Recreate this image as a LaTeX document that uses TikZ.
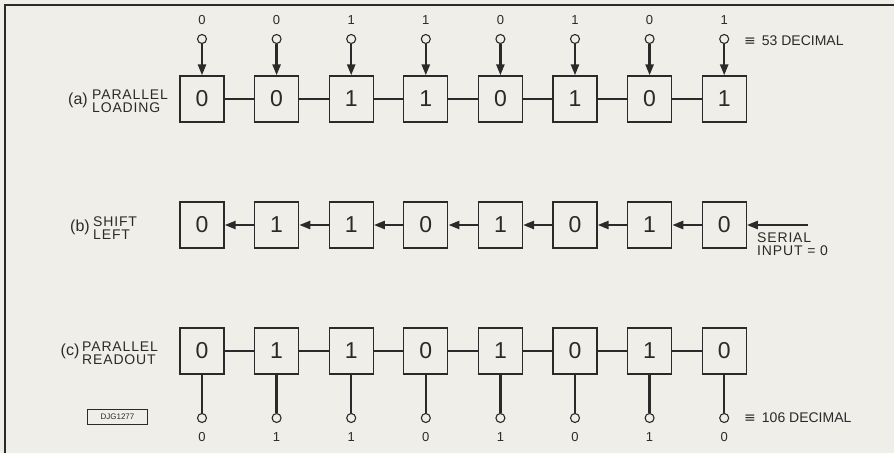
\documentclass[tikz,border=0pt]{standalone}
\usepackage{fontspec}
\setmainfont{Liberation Sans}
\newfontfamily\symfont{DejaVu Sans}
\newfontfamily\widefont[LetterSpace=6]{Liberation Sans}
\usetikzlibrary{arrows.meta}
\definecolor{paper}{HTML}{EFEEE8}
\definecolor{ink}{HTML}{2A2A2A}
\begin{document}
\begin{tikzpicture}[x=1pt,y=-1pt,
  cell/.style={draw=ink,line width=1.3pt,minimum width=44pt,minimum height=46pt,inner sep=0pt,font=\fontsize{23}{23}\selectfont,text=ink},
  pin/.style={circle,draw=ink,line width=1.1pt,minimum size=9pt,inner sep=0pt,fill=paper},
  bitlbl/.style={font=\fontsize{13}{13}\selectfont,text=ink,inner sep=0pt},
  link/.style={draw=ink,line width=2.4pt},
  feed/.style={draw=ink,line width=2.4pt,-{Triangle[length=11pt,width=8pt]}},
  rowlbl/.style={font=\fontsize{16}{16}\selectfont,text=ink,inner sep=0pt},
  rowtxt/.style={font=\widefont\fontsize{14}{14}\selectfont,text=ink,inner sep=0pt,anchor=base west},
  note/.style={font=\fontsize{14}{14}\selectfont,text=ink,inner sep=0pt,anchor=west}
]
\fill[paper] (0,0) rectangle (894,453);
\useasboundingbox (0,0) rectangle (894,453);
\draw[ink,line width=2pt] (5,453) -- (5,5) -- (894,5);

% row labels
\node[rowlbl] (la) at (78,100) {(a)};
\node[rowtxt] (ta1) at (92,99.5) {PARALLEL};
\node[rowtxt] (ta2) at (92,112.5) {LOADING};
\node[rowlbl] (lb) at (80,227) {(b)};
\node[rowtxt] (tb1) at (93,226.5) {SHIFT};
\node[rowtxt] (tb2) at (93,239.5) {LEFT};
\node[rowlbl] (lc) at (70,351) {(c)};
\node[rowtxt] (tc1) at (82,351.5) {PARALLEL};
\node[rowtxt] (tc2) at (82,364.5) {READOUT};

% row (a)
\foreach \b [count=\i from 0] in {0,0,1,1,0,1,0,1} {
  \node[cell] (a\i) at (202+74.6*\i,99) {\b};
  \node[pin] (ap\i) at (202+74.6*\i,39) {};
  \node[bitlbl] (al\i) at (202+74.6*\i,20) {\b};
  \draw[feed] (ap\i.south) -- (a\i.north);
}
\foreach \i [evaluate=\i as \j using int(\i+1)] in {0,...,6}
  \draw[link] (a\i.east) -- (a\j.west);
\node[note] (ea) at (744,41) {{\symfont ≡}\hspace{6pt}53 DECIMAL};

% row (b)
\foreach \b [count=\i from 0] in {0,1,1,0,1,0,1,0}
  \node[cell] (b\i) at (202+74.6*\i,225) {\b};
\foreach \i [evaluate=\i as \j using int(\i+1)] in {0,...,6}
  \draw[feed] (b\j.west) -- (b\i.east);
\coordinate (sin) at (808,225);
\draw[feed] (sin) -- (b7.east);
\node[rowtxt] (st1) at (757,242) {SERIAL};
\node[rowtxt] (st2) at (757,255.5) {INPUT = 0};

% row (c)
\foreach \b [count=\i from 0] in {0,1,1,0,1,0,1,0} {
  \node[cell] (c\i) at (202+74.6*\i,351) {\b};
  \node[pin] (cp\i) at (202+74.6*\i,418) {};
  \node[bitlbl] (cl\i) at (202+74.6*\i,437) {\b};
  \draw[link] (c\i.south) -- (cp\i.north);
}
\foreach \i [evaluate=\i as \j using int(\i+1)] in {0,...,6}
  \draw[link] (c\i.east) -- (c\j.west);
\node[note] (ec) at (744,418) {{\symfont ≡}\hspace{6pt}106 DECIMAL};

\node[draw=ink,line width=1pt,minimum width=60pt,minimum height=15pt,inner sep=0pt,font=\fontsize{8}{8}\selectfont,text=ink] (ref) at (117.5,416.5) {DJG1277};
\end{tikzpicture}
\end{document}
